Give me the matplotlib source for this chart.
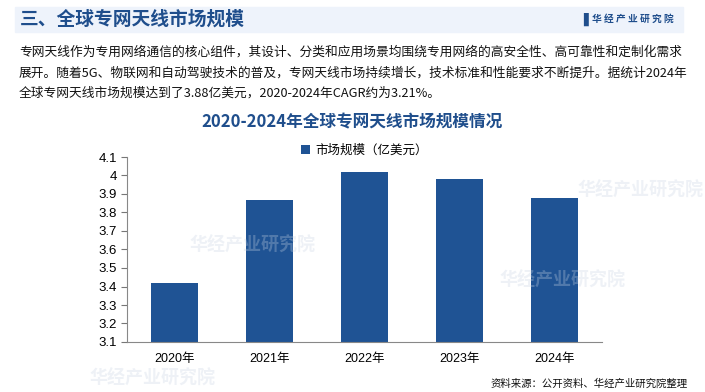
import matplotlib.pyplot as plt
from matplotlib.patches import Rectangle

plt.rcParams['font.family'] = ['Noto Sans CJK SC', 'DejaVu Sans']
plt.rcParams['axes.unicode_minus'] = False

years = ['2020年', '2021年', '2022年', '2023年', '2024年']
market = [3.42, 3.87, 4.02, 3.98, 3.88]
yticks = [3.1, 3.2, 3.3, 3.4, 3.5, 3.6, 3.7, 3.8, 3.9, 4.0, 4.1]
ytick_labels = ['3.1', '3.2', '3.3', '3.4', '3.5', '3.6', '3.7', '3.8', '3.9', '4', '4.1']

header = '三、全球专网天线市场规模'
body = ('专网天线作为专用网络通信的核心组件，其设计、分类和应用场景均围绕专用网络的高安全性、高可靠性和定制化需求\n'
        '展开。随着5G、物联网和自动驾驶技术的普及，专网天线市场持续增长，技术标准和性能要求不断提升。据统计2024年\n'
        '全球专网天线市场规模达到了3.88亿美元，2020-2024年CAGR约为3.21%。')
chart_title = '2020-2024年全球专网天线市场规模情况'
source = '资料来源：公开资料、华经产业研究院整理'

dark_blue = '#1f4e8c'
bar_color = '#1f5394'

fig = plt.figure(figsize=(7.05, 3.92), dpi=100)
W, H = 705, 392

# 顶部标题栏
fig.patches.append(Rectangle((15 / W, 1 - 32 / H), 668 / W, 25 / H,
                             transform=fig.transFigure, color='#eef3fb', zorder=0))
fig.text(20 / W, 1 - 19 / H, header, fontsize=13.5, fontweight='bold',
         color=dark_blue, va='center')
fig.text(583 / W, 1 - 19 / H, '▌', fontsize=9, color=dark_blue, va='center',
         family=['DejaVu Sans'])
fig.text(592 / W, 1 - 19 / H, '华 经 产 业 研 究 院', fontsize=7, fontweight='bold',
         color=dark_blue, va='center')

# 水印（淡）
for wx, wy in [(190, 245), (500, 280), (90, 378), (578, 190)]:
    fig.text(wx / W, 1 - wy / H, '华经产业研究院', fontsize=13, fontweight='bold',
             color='#c8d3e3', alpha=0.3, va='center', zorder=0)

# 正文
fig.text(19 / W, 1 - 46 / H, body, fontsize=9.15, color='#111111', va='top',
         linespacing=1.72)

fig.text(0.5, 1 - 122 / H, chart_title, fontsize=12, fontweight='bold',
         color=dark_blue, ha='center', va='center')

fig.text(688 / W, 1 - 384 / H, source, fontsize=7.5, color='#111111',
         ha='right', va='center')

ax = fig.add_axes([127 / W, 1 - 342 / H, 475 / W, 185 / H])
ax.patch.set_alpha(0)
ax.bar(years, market, width=0.5, color=bar_color, label='市场规模（亿美元）', zorder=2)
ax.set_ylim(3.1, 4.1)
ax.set_xlim(-0.5, 4.5)
ax.set_yticks(yticks)
ax.set_yticklabels(ytick_labels, family=['Liberation Sans', 'DejaVu Sans'], fontsize=9.5)
ax.tick_params(axis='y', length=4, color='#777777', pad=3)
ax.tick_params(axis='x', length=0, labelsize=9, pad=8)
for lab in ax.get_xticklabels():
    lab.set_family(['Liberation Sans', 'Noto Sans CJK SC'])
for s in ['top', 'right']:
    ax.spines[s].set_visible(False)
ax.spines['left'].set_color('#888888')
ax.spines['bottom'].set_color('#888888')
ax.legend(loc='upper center', bbox_to_anchor=(0.5, 1.13), frameon=False,
          fontsize=9, handlelength=0.7, handleheight=0.7, handletextpad=0.4)

plt.savefig('out.png', dpi=100)
